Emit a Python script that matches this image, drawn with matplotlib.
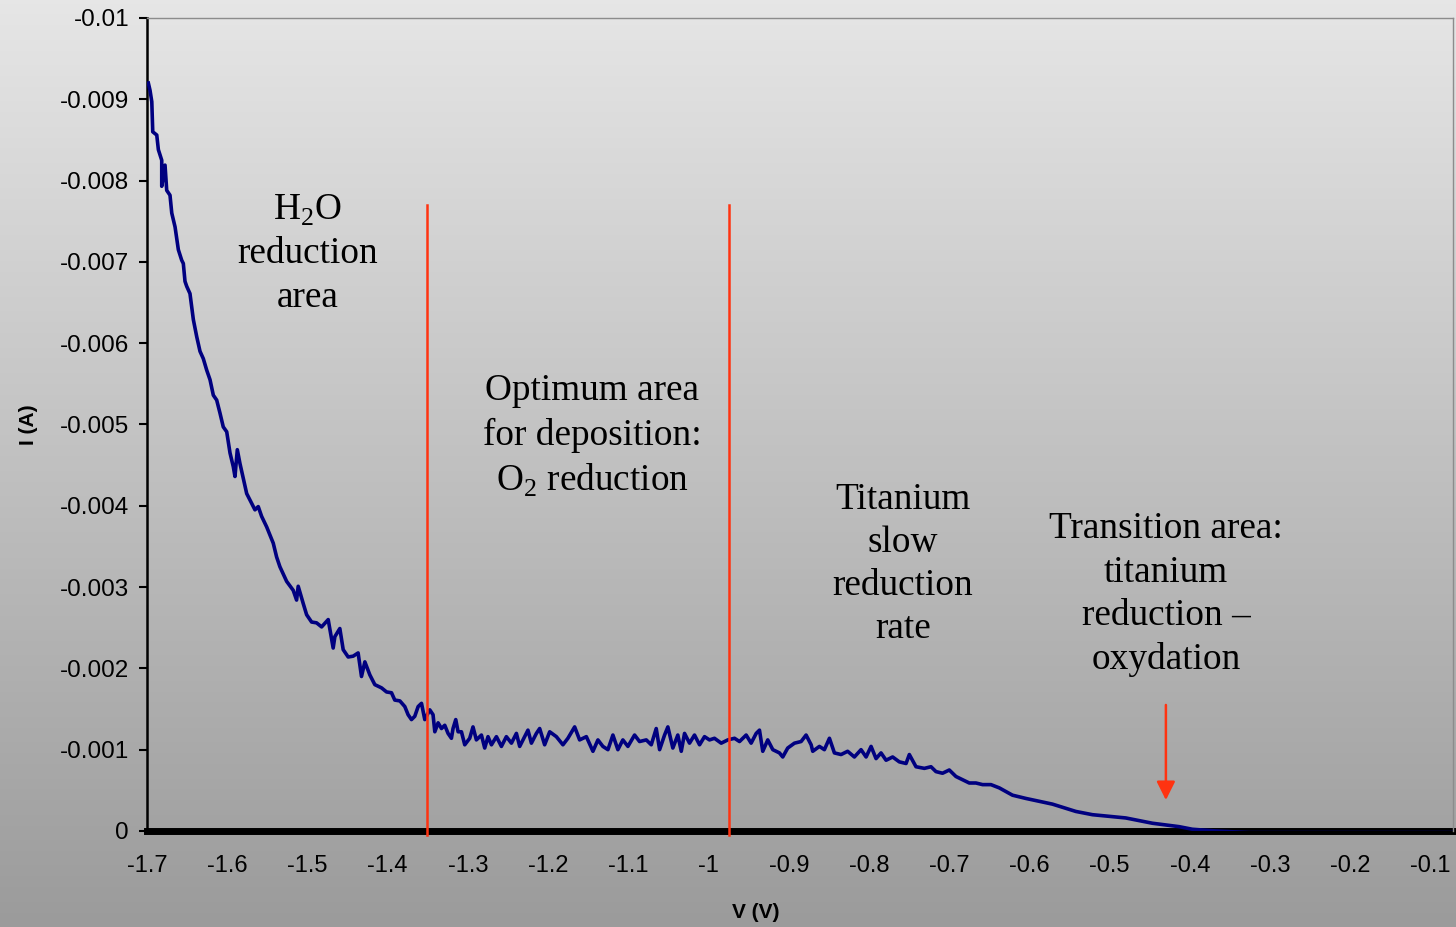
import numpy as np
import matplotlib.pyplot as plt
from matplotlib.colors import LinearSegmentedColormap

plt.rcParams['font.family'] = ['Liberation Sans', 'DejaVu Sans']
plt.rcParams['mathtext.fontset'] = 'custom'
plt.rcParams['mathtext.rm'] = 'Liberation Serif'

# voltammogram (V in volts, I in mA)
volts = [-1.6984, -1.6963, -1.6941, -1.6929, -1.6879, -1.6859, -1.6817, -1.6817, -1.6776, -1.6755,
         -1.6714, -1.6692, -1.6651, -1.6610, -1.6568, -1.6548, -1.6527, -1.6506, -1.6465, -1.6423,
         -1.6381, -1.6340, -1.6299, -1.6257, -1.6215, -1.6174, -1.6132, -1.6091, -1.6050, -1.6007,
         -1.5966, -1.5925, -1.5904, -1.5875, -1.5842, -1.5801, -1.5758, -1.5717, -1.5655, -1.5614,
         -1.5572, -1.5509, -1.5427, -1.5385, -1.5344, -1.5260, -1.5178, -1.5136, -1.5116, -1.5054,
         -1.5011, -1.4949, -1.4887, -1.4824, -1.4742, -1.4680, -1.4659, -1.4597, -1.4555, -1.4493,
         -1.4431, -1.4369, -1.4327, -1.4285, -1.4223, -1.4161, -1.4077, -1.4015, -1.3953, -1.3912,
         -1.3849, -1.3787, -1.3746, -1.3704, -1.3663, -1.3621, -1.3579, -1.3538, -1.3476, -1.3435,
         -1.3413, -1.3372, -1.3330, -1.3289, -1.3248, -1.3206, -1.3186, -1.3152, -1.3123, -1.3081,
         -1.3040, -1.2978, -1.2937, -1.2895, -1.2832, -1.2791, -1.2750, -1.2707, -1.2645, -1.2583,
         -1.2521, -1.2458, -1.2396, -1.2355, -1.2293, -1.2252, -1.2209, -1.2147, -1.2106, -1.2044,
         -1.1981, -1.1898, -1.1816, -1.1754, -1.1670, -1.1608, -1.1524, -1.1442, -1.1380, -1.1318,
         -1.1255, -1.1193, -1.1131, -1.1069, -1.1006, -1.0923, -1.0861, -1.0777, -1.0715, -1.0653,
         -1.0611, -1.0549, -1.0508, -1.0446, -1.0384, -1.0341, -1.0300, -1.0238, -1.0176, -1.0113,
         -1.0051, -0.9989, -0.9927, -0.9843, -0.9761, -0.9677, -0.9615, -0.9532, -0.9470, -0.9407,
         -0.9366, -0.9325, -0.9263, -0.9200, -0.9117, -0.9076, -0.9014, -0.8930, -0.8847, -0.8785,
         -0.8722, -0.8702, -0.8619, -0.8557, -0.8494, -0.8432, -0.8349, -0.8267, -0.8183, -0.8100,
         -0.8037, -0.7975, -0.7913, -0.7851, -0.7788, -0.7706, -0.7623, -0.7539, -0.7498, -0.7415,
         -0.7311, -0.7228, -0.7166, -0.7084, -0.7000, -0.6917, -0.6834, -0.6751, -0.6668, -0.6585,
         -0.6481, -0.6377, -0.6212, -0.6045, -0.5714, -0.5422, -0.5215, -0.4800, -0.4468, -0.4136,
         -0.3970, -0.3682, -0.3264, -0.0700]
current_mA = [-9.20, -9.11, -8.97, -8.60, -8.56, -8.38, -8.25, -7.93, -8.19, -7.88,
              -7.82, -7.60, -7.43, -7.15, -7.02, -6.98, -6.76, -6.70, -6.61, -6.29,
              -6.08, -5.90, -5.81, -5.67, -5.55, -5.36, -5.30, -5.14, -4.97, -4.91,
              -4.65, -4.48, -4.36, -4.69, -4.52, -4.34, -4.15, -4.07, -3.95, -3.99,
              -3.87, -3.74, -3.54, -3.37, -3.25, -3.07, -2.96, -2.84, -3.01, -2.80,
              -2.66, -2.57, -2.56, -2.51, -2.60, -2.25, -2.39, -2.49, -2.23, -2.14,
              -2.15, -2.19, -1.90, -2.08, -1.92, -1.80, -1.76, -1.71, -1.70, -1.61,
              -1.60, -1.53, -1.43, -1.37, -1.41, -1.53, -1.57, -1.37, -1.49, -1.43,
              -1.22, -1.33, -1.26, -1.30, -1.20, -1.14, -1.26, -1.37, -1.22, -1.22,
              -1.06, -1.14, -1.28, -1.12, -1.18, -1.02, -1.16, -1.06, -1.16, -1.04,
              -1.16, -1.08, -1.20, -1.04, -1.16, -1.24, -1.08, -1.20, -1.26, -1.06,
              -1.22, -1.16, -1.06, -1.14, -1.28, -1.12, -1.16, -0.98, -1.12, -1.04,
              -1.00, -1.18, -1.00, -1.12, -1.04, -1.18, -1.10, -1.12, -1.06, -1.26,
              -1.00, -1.18, -1.28, -1.02, -1.18, -0.98, -1.20, -1.08, -1.18, -1.06,
              -1.16, -1.12, -1.14, -1.08, -1.12, -1.14, -1.10, -1.18, -1.08, -1.20,
              -1.24, -0.98, -1.12, -1.00, -0.96, -0.91, -1.02, -1.08, -1.10, -1.18,
              -1.06, -0.98, -1.04, -1.00, -1.14, -0.96, -0.94, -0.98, -0.91, -1.00,
              -0.91, -1.04, -0.89, -0.96, -0.87, -0.91, -0.85, -0.83, -0.94, -0.79,
              -0.77, -0.79, -0.73, -0.71, -0.75, -0.67, -0.63, -0.59, -0.59, -0.57,
              -0.57, -0.53, -0.44, -0.40, -0.33, -0.24, -0.20, -0.16, -0.095, -0.053,
              -0.021, 0.0, 0.02, 0.02]
current = [c * 1e-3 for c in current_mA]

x_ticks = [-1.7, -1.6, -1.5, -1.4, -1.3, -1.2, -1.1, -1.0, -0.9, -0.8, -0.7, -0.6, -0.5, -0.4, -0.3, -0.2, -0.1]
x_labels = ['-1.7', '-1.6', '-1.5', '-1.4', '-1.3', '-1.2', '-1.1', '-1', '-0.9', '-0.8',
            '-0.7', '-0.6', '-0.5', '-0.4', '-0.3', '-0.2', '-0.1']
y_ticks = [-0.01, -0.009, -0.008, -0.007, -0.006, -0.005, -0.004, -0.003, -0.002, -0.001, 0]
y_labels = ['-0.01', '-0.009', '-0.008', '-0.007', '-0.006', '-0.005', '-0.004', '-0.003',
            '-0.002', '-0.001', '0']

bounds = [-1.351, -0.975]      # red separators
arrow_v = -0.430
arrow_from, arrow_to = -0.00155, -0.00038

fig = plt.figure(figsize=(14.56, 9.27), dpi=100)

# grey gradient background over the whole figure
bg = fig.add_axes([0, 0, 1, 1], zorder=-10)
grad = np.linspace(0, 1, 256).reshape(-1, 1)
bg.imshow(grad, aspect='auto', cmap=LinearSegmentedColormap.from_list('g', ['#e6e6e6', '#9b9b9b']),
          extent=[0, 1, 0, 1], origin='upper')
bg.axis('off')

ax = fig.add_axes([0.101, 0.1036, 0.897, 0.877])
ax.patch.set_alpha(0)
ax.plot(volts, current, color='#000080', lw=2.6, zorder=3)

ax.set_xlim(-1.7, -0.072)
ax.set_ylim(0.0, -0.01)
ax.set_xticks(x_ticks)
ax.set_xticklabels(x_labels)
ax.set_yticks(y_ticks)
ax.set_yticklabels(y_labels)
ax.tick_params(axis='x', length=0, pad=17, labelsize=17)
ax.tick_params(axis='y', length=6, width=1.5, pad=7, labelsize=17.5, direction='out')

ax.spines['bottom'].set_linewidth(5)
ax.spines['bottom'].set_zorder(2)
ax.spines['left'].set_linewidth(1.8)
for s in ['top', 'right']:
    ax.spines[s].set_color('#8c8c8c')
    ax.spines[s].set_linewidth(1)

for b in bounds:
    ax.plot([b, b], [-0.0077, 0.00005], color='#ff3311', lw=1.8, clip_on=False, zorder=4)

ax.annotate('', xy=(arrow_v, arrow_to), xytext=(arrow_v, arrow_from),
            arrowprops=dict(arrowstyle='-|>', color='#ff3311', lw=1.8, mutation_scale=28,
                            shrinkA=0, shrinkB=0))

serif = dict(family='Liberation Serif', fontsize=26.8, ha='center', va='center',
             linespacing=1.33)
ax.text(-1.5, -0.00710, 'H$_\\mathrm{2}$O\nreduction\narea', **serif)
ax.text(-1.145, -0.00485, 'Optimum area\nfor deposition:\nO$_\\mathrm{2}$ reduction', **serif)
ax.text(-0.758, -0.00328, 'Titanium\nslow\nreduction\nrate', **serif)
ax.text(-0.430, -0.00291, 'Transition area:\ntitanium\nreduction \u2013\noxydation', **serif)

fig.text(756 / 1456, 1 - 912 / 927, 'V (V)', fontsize=15, fontweight='bold', ha='center', va='center')
fig.text(28 / 1456, 1 - 425 / 927, 'I (A)', fontsize=15, fontweight='bold', ha='center', va='center',
         rotation=90)

fig.savefig('out.png', dpi=100)
